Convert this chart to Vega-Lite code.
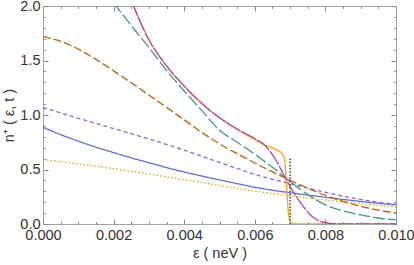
{
  "$schema": "https://vega.github.io/schema/vega-lite/v6.json",
  "width": 353,
  "height": 218,
  "autosize": {"type": "none"},
  "padding": {"left": 43, "top": 6, "right": 18, "bottom": 41},
  "config": {
    "view": {"stroke": "#a6a6a6", "strokeWidth": 1},
    "axis": {"grid": false, "domain": false, "labelFont": "Liberation Sans", "labelFontSize": 14.5, "labelColor": "#333333", "titleFont": "Liberation Sans", "titleFontSize": 14.5, "titleColor": "#333333", "titleFontWeight": "normal", "tickColor": "#8f8f8f", "tickWidth": 1, "labelFlush": false, "labelOverlap": false},
    "line": {"strokeWidth": 1.3}
  },
  "datasets": {
    "curves": [
      {"s": "blue", "x": 0, "y": 0.887}, {"s": "blue", "x": 0.0005, "y": 0.82}, {"s": "blue", "x": 0.001, "y": 0.76}, {"s": "blue", "x": 0.0015, "y": 0.705}, {"s": "blue", "x": 0.002, "y": 0.655}, {"s": "blue", "x": 0.0025, "y": 0.607}, {"s": "blue", "x": 0.003, "y": 0.562}, {"s": "blue", "x": 0.0035, "y": 0.518}, {"s": "blue", "x": 0.004, "y": 0.477}, {"s": "blue", "x": 0.0045, "y": 0.44}, {"s": "blue", "x": 0.005, "y": 0.405}, {"s": "blue", "x": 0.0055, "y": 0.37}, {"s": "blue", "x": 0.006, "y": 0.337}, {"s": "blue", "x": 0.0065, "y": 0.31}, {"s": "blue", "x": 0.007, "y": 0.287}, {"s": "blue", "x": 0.0075, "y": 0.265}, {"s": "blue", "x": 0.008, "y": 0.245}, {"s": "blue", "x": 0.0085, "y": 0.225}, {"s": "blue", "x": 0.009, "y": 0.207}, {"s": "blue", "x": 0.0095, "y": 0.19}, {"s": "blue", "x": 0.01, "y": 0.175},
      {"s": "purple", "x": 0, "y": 1.067}, {"s": "purple", "x": 0.0005, "y": 1.02}, {"s": "purple", "x": 0.001, "y": 0.97}, {"s": "purple", "x": 0.0015, "y": 0.923}, {"s": "purple", "x": 0.002, "y": 0.876}, {"s": "purple", "x": 0.0025, "y": 0.828}, {"s": "purple", "x": 0.003, "y": 0.78}, {"s": "purple", "x": 0.0035, "y": 0.73}, {"s": "purple", "x": 0.004, "y": 0.677}, {"s": "purple", "x": 0.0045, "y": 0.622}, {"s": "purple", "x": 0.005, "y": 0.565}, {"s": "purple", "x": 0.0055, "y": 0.51}, {"s": "purple", "x": 0.006, "y": 0.455}, {"s": "purple", "x": 0.0065, "y": 0.41}, {"s": "purple", "x": 0.007, "y": 0.37}, {"s": "purple", "x": 0.0075, "y": 0.33}, {"s": "purple", "x": 0.008, "y": 0.29}, {"s": "purple", "x": 0.0085, "y": 0.255}, {"s": "purple", "x": 0.009, "y": 0.225}, {"s": "purple", "x": 0.0095, "y": 0.2}, {"s": "purple", "x": 0.01, "y": 0.18},
      {"s": "yellow", "x": 0, "y": 0.592}, {"s": "yellow", "x": 0.0005, "y": 0.572}, {"s": "yellow", "x": 0.001, "y": 0.551}, {"s": "yellow", "x": 0.0015, "y": 0.53}, {"s": "yellow", "x": 0.002, "y": 0.507}, {"s": "yellow", "x": 0.0025, "y": 0.483}, {"s": "yellow", "x": 0.003, "y": 0.458}, {"s": "yellow", "x": 0.0035, "y": 0.432}, {"s": "yellow", "x": 0.004, "y": 0.406}, {"s": "yellow", "x": 0.0045, "y": 0.38}, {"s": "yellow", "x": 0.005, "y": 0.355}, {"s": "yellow", "x": 0.0055, "y": 0.327}, {"s": "yellow", "x": 0.006, "y": 0.302}, {"s": "yellow", "x": 0.0065, "y": 0.28}, {"s": "yellow", "x": 0.007, "y": 0.26}, {"s": "yellow", "x": 0.0075, "y": 0.24}, {"s": "yellow", "x": 0.008, "y": 0.22}, {"s": "yellow", "x": 0.0085, "y": 0.202}, {"s": "yellow", "x": 0.009, "y": 0.185}, {"s": "yellow", "x": 0.0095, "y": 0.17}, {"s": "yellow", "x": 0.01, "y": 0.155},
      {"s": "brown", "x": 0, "y": 1.72}, {"s": "brown", "x": 0.0005, "y": 1.675}, {"s": "brown", "x": 0.001, "y": 1.605}, {"s": "brown", "x": 0.0015, "y": 1.51}, {"s": "brown", "x": 0.002, "y": 1.405}, {"s": "brown", "x": 0.0025, "y": 1.295}, {"s": "brown", "x": 0.003, "y": 1.183}, {"s": "brown", "x": 0.0035, "y": 1.07}, {"s": "brown", "x": 0.004, "y": 0.955}, {"s": "brown", "x": 0.0045, "y": 0.84}, {"s": "brown", "x": 0.005, "y": 0.735}, {"s": "brown", "x": 0.0055, "y": 0.645}, {"s": "brown", "x": 0.006, "y": 0.56}, {"s": "brown", "x": 0.0065, "y": 0.478}, {"s": "brown", "x": 0.007, "y": 0.40}, {"s": "brown", "x": 0.0075, "y": 0.328}, {"s": "brown", "x": 0.008, "y": 0.263}, {"s": "brown", "x": 0.0085, "y": 0.207}, {"s": "brown", "x": 0.009, "y": 0.162}, {"s": "brown", "x": 0.0095, "y": 0.127}, {"s": "brown", "x": 0.01, "y": 0.10},
      {"s": "teal", "x": 0.002, "y": 2.03}, {"s": "teal", "x": 0.0025, "y": 1.82}, {"s": "teal", "x": 0.003, "y": 1.62}, {"s": "teal", "x": 0.0035, "y": 1.41}, {"s": "teal", "x": 0.004, "y": 1.22}, {"s": "teal", "x": 0.0045, "y": 1.04}, {"s": "teal", "x": 0.005, "y": 0.86}, {"s": "teal", "x": 0.0055, "y": 0.75}, {"s": "teal", "x": 0.006, "y": 0.64}, {"s": "teal", "x": 0.0065, "y": 0.52}, {"s": "teal", "x": 0.007, "y": 0.39}, {"s": "teal", "x": 0.0075, "y": 0.27}, {"s": "teal", "x": 0.008, "y": 0.175}, {"s": "teal", "x": 0.0085, "y": 0.12}, {"s": "teal", "x": 0.009, "y": 0.083}, {"s": "teal", "x": 0.0095, "y": 0.055}, {"s": "teal", "x": 0.01, "y": 0.037},
      {"s": "orange", "x": 0.0025, "y": 2.05}, {"s": "orange", "x": 0.003, "y": 1.69}, {"s": "orange", "x": 0.0035, "y": 1.45}, {"s": "orange", "x": 0.004, "y": 1.265}, {"s": "orange", "x": 0.0045, "y": 1.105}, {"s": "orange", "x": 0.005, "y": 0.975}, {"s": "orange", "x": 0.0055, "y": 0.87}, {"s": "orange", "x": 0.006, "y": 0.775}, {"s": "orange", "x": 0.0062, "y": 0.738}, {"s": "orange", "x": 0.0064, "y": 0.71}, {"s": "orange", "x": 0.0066, "y": 0.685}, {"s": "orange", "x": 0.0067, "y": 0.665}, {"s": "orange", "x": 0.0068, "y": 0.63}, {"s": "orange", "x": 0.00685, "y": 0.58}, {"s": "orange", "x": 0.0069, "y": 0.36}, {"s": "orange", "x": 0.00695, "y": 0.11}, {"s": "orange", "x": 0.007, "y": 0.025}, {"s": "orange", "x": 0.0071, "y": 0.004}, {"s": "orange", "x": 0.0072, "y": 0}, {"s": "orange", "x": 0.01, "y": 0},
      {"s": "magenta", "x": 0.0025, "y": 2.05}, {"s": "magenta", "x": 0.003, "y": 1.69}, {"s": "magenta", "x": 0.0035, "y": 1.45}, {"s": "magenta", "x": 0.004, "y": 1.265}, {"s": "magenta", "x": 0.0045, "y": 1.105}, {"s": "magenta", "x": 0.005, "y": 0.975}, {"s": "magenta", "x": 0.0055, "y": 0.87}, {"s": "magenta", "x": 0.006, "y": 0.785}, {"s": "magenta", "x": 0.0062, "y": 0.745}, {"s": "magenta", "x": 0.0064, "y": 0.68}, {"s": "magenta", "x": 0.0066, "y": 0.585}, {"s": "magenta", "x": 0.0068, "y": 0.465}, {"s": "magenta", "x": 0.007, "y": 0.345}, {"s": "magenta", "x": 0.0072, "y": 0.24}, {"s": "magenta", "x": 0.0074, "y": 0.15}, {"s": "magenta", "x": 0.0076, "y": 0.075}, {"s": "magenta", "x": 0.0078, "y": 0.032}, {"s": "magenta", "x": 0.008, "y": 0.012}, {"s": "magenta", "x": 0.0082, "y": 0.004}, {"s": "magenta", "x": 0.0085, "y": 0.001}, {"s": "magenta", "x": 0.009, "y": 0}, {"s": "magenta", "x": 0.01, "y": 0}
    ],
    "marker": [{"x": 0.007, "y0": 0, "y1": 0.6}]
  },
  "resolve": {"axis": {"x": "independent", "y": "independent"}},
  "layer": [
    {
      "data": {"name": "curves"},
      "transform": [{"filter": "datum.s !== 'magenta'"}],
      "mark": {"type": "line", "interpolate": "monotone", "clip": true},
      "encoding": {
        "x": {"field": "x", "type": "quantitative", "scale": {"domain": [0, 0.01], "nice": false, "zero": false},
              "axis": {"orient": "bottom", "values": [0, 0.002, 0.004, 0.006, 0.008, 0.01], "format": ".3f", "ticks": false, "labelPadding": 4, "title": "ε ( neV )", "titlePadding": 5}},
        "y": {"field": "y", "type": "quantitative", "scale": {"domain": [0, 2], "nice": false},
              "axis": {"orient": "left", "values": [0, 0.5, 1, 1.5, 2], "format": ".1f", "ticks": false, "labelPadding": 3, "title": "n⁺ ( ε, t )", "titlePadding": 3}},
        "color": {"field": "s", "type": "nominal", "legend": null,
                  "scale": {"domain": ["blue", "purple", "yellow", "brown", "teal", "orange"], "range": ["#5b6fd6", "#8a64e8", "#d6a40e", "#c1620e", "#3e9a7c", "#ffa20a"]}},
        "strokeDash": {"field": "s", "type": "nominal", "legend": null,
                  "scale": {"domain": ["blue", "purple", "yellow", "brown", "teal", "orange"], "range": [[1, 0], [4, 3], [1.5, 2.2], [8, 3], [12, 3], [1, 0]]}}
      }
    },
    {
      "data": {"name": "curves"},
      "transform": [{"filter": "datum.s === 'magenta'"}],
      "mark": {"type": "line", "interpolate": "monotone", "clip": true, "color": "#b143b5", "strokeDash": [16, 1.5]},
      "encoding": {
        "x": {"field": "x", "type": "quantitative", "axis": {"orient": "bottom", "values": [0, 0.002, 0.004, 0.006, 0.008, 0.01], "labels": false, "tickSize": 5, "offset": -5, "title": null}},
        "y": {"field": "y", "type": "quantitative", "axis": {"orient": "left", "values": [0, 0.5, 1, 1.5, 2], "labels": false, "tickSize": 5, "offset": -5, "title": null}}
      }
    },
    {
      "data": {"name": "marker"},
      "mark": {"type": "rule", "color": "#555555", "strokeDash": [1.6, 1.6], "strokeWidth": 1.6},
      "encoding": {
        "x": {"field": "x", "type": "quantitative", "axis": {"orient": "bottom", "values": [0.0005, 0.001, 0.0015, 0.0025, 0.003, 0.0035, 0.0045, 0.005, 0.0055, 0.0065, 0.007, 0.0075, 0.0085, 0.009, 0.0095], "labels": false, "tickSize": 2.5, "offset": -2.5, "title": null}},
        "y": {"field": "y0", "type": "quantitative", "axis": {"orient": "left", "values": [0.1, 0.2, 0.3, 0.4, 0.6, 0.7, 0.8, 0.9, 1.1, 1.2, 1.3, 1.4, 1.6, 1.7, 1.8, 1.9], "labels": false, "tickSize": 2.5, "offset": -2.5, "title": null}},
        "y2": {"field": "y1"}
      }
    },
    {
      "data": {"name": "marker"},
      "mark": {"type": "rule", "opacity": 0},
      "encoding": {
        "x": {"field": "x", "type": "quantitative", "axis": {"orient": "top", "values": [0, 0.002, 0.004, 0.006, 0.008, 0.01], "labels": false, "tickSize": 5, "offset": -5, "title": null}},
        "y": {"field": "y0", "type": "quantitative", "axis": {"orient": "right", "values": [0, 0.5, 1, 1.5, 2], "labels": false, "tickSize": 5, "offset": -5, "title": null}},
        "y2": {"field": "y1"}
      }
    },
    {
      "data": {"name": "marker"},
      "mark": {"type": "rule", "opacity": 0},
      "encoding": {
        "x": {"field": "x", "type": "quantitative", "axis": {"orient": "top", "values": [0.0005, 0.001, 0.0015, 0.0025, 0.003, 0.0035, 0.0045, 0.005, 0.0055, 0.0065, 0.007, 0.0075, 0.0085, 0.009, 0.0095], "labels": false, "tickSize": 2.5, "offset": -2.5, "title": null}},
        "y": {"field": "y0", "type": "quantitative", "axis": {"orient": "right", "values": [0.1, 0.2, 0.3, 0.4, 0.6, 0.7, 0.8, 0.9, 1.1, 1.2, 1.3, 1.4, 1.6, 1.7, 1.8, 1.9], "labels": false, "tickSize": 2.5, "offset": -2.5, "title": null}},
        "y2": {"field": "y1"}
      }
    }
  ]
}
